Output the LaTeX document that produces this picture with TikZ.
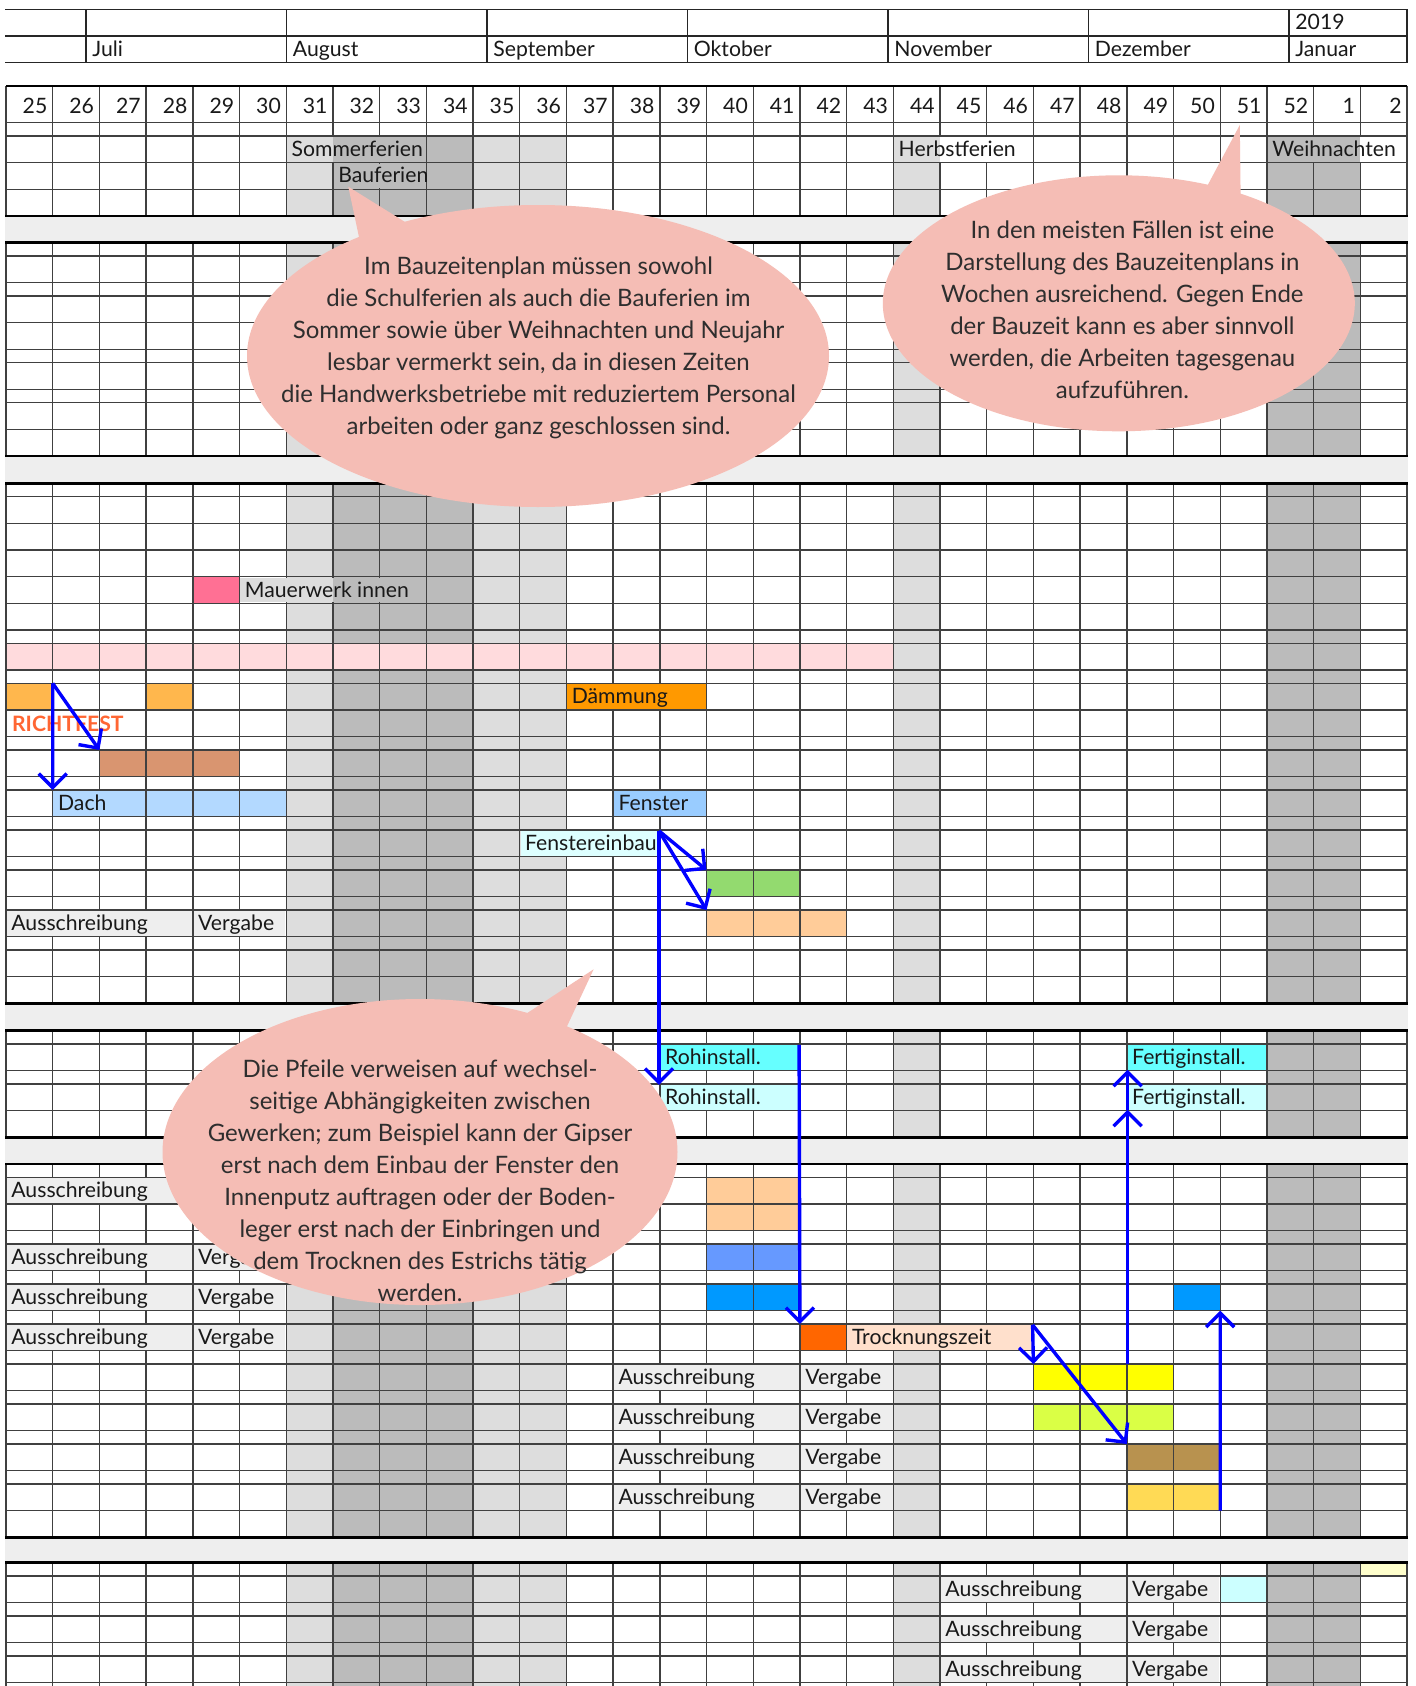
\documentclass[tikz,border=0pt]{standalone}
\usepackage{fontspec}
\setmainfont{Lato}
\usetikzlibrary{arrows.meta,fit}
\definecolor{shlight}{HTML}{DDDDDD}
\definecolor{shdark}{HTML}{BBBBBB}
\definecolor{bandgray}{HTML}{EEEEEE}
\definecolor{labgray}{HTML}{EEEEEE}
\definecolor{gridc}{HTML}{404040}
\definecolor{callc}{HTML}{F5BDB5}
\definecolor{calltextc}{HTML}{2E2E2E}
\definecolor{arrowblue}{HTML}{0000FF}
\definecolor{cpinkcell}{HTML}{FF7094}
\definecolor{cpinkband}{HTML}{FFDBDD}
\definecolor{corange}{HTML}{FFB74D}
\definecolor{cdaemm}{HTML}{FF9900}
\definecolor{crichtfest}{HTML}{FF6633}
\definecolor{cbrown}{HTML}{D99570}
\definecolor{cdach}{HTML}{B3D9FF}
\definecolor{cfenster}{HTML}{99CCFF}
\definecolor{cfeinbau}{HTML}{DDFFFF}
\definecolor{cgreen}{HTML}{93DA6F}
\definecolor{cpeach}{HTML}{FFCC99}
\definecolor{croh}{HTML}{66FFFF}
\definecolor{crohlight}{HTML}{CCFFFF}
\definecolor{cblueA}{HTML}{6699FF}
\definecolor{cblueB}{HTML}{0099FF}
\definecolor{cdry}{HTML}{FF6600}
\definecolor{cdrylight}{HTML}{FFE0CC}
\definecolor{cyellow}{HTML}{FFFF00}
\definecolor{cyellowgreen}{HTML}{DAFF45}
\definecolor{cbrownB}{HTML}{B8924F}
\definecolor{cgold}{HTML}{FFDA55}
\definecolor{clightyellow}{HTML}{FFFFCC}
\newcommand{\cellfont}{\fontsize{10.6pt}{12pt}\selectfont}
\newcommand{\callfont}{\fontsize{12pt}{16pt}\selectfont}
% bar cell (drawn before the grid): name, c1, c2 (exclusive), ytop, ybot, colour
\newcommand{\gcell}[6]{%
  \pgfmathsetmacro{\xa}{6+46.7*#2}%
  \pgfmathsetmacro{\xb}{6+46.7*#3}%
  \node[cellbox, fill=#6, fit={(\xa,#4) (\xb,#5)}] (#1) {};}
% merged label cell (drawn after the grid)
\newcommand{\glabel}[7]{%
  \pgfmathsetmacro{\xa}{6+46.7*#2+0.8}%
  \pgfmathsetmacro{\xb}{6+46.7*#3-0.8}%
  \pgfmathsetmacro{\ya}{#4+0.9}%
  \pgfmathsetmacro{\yb}{#5-0.9}%
  \pgfmathsetmacro{\xt}{6+46.7*#2+5}%
  \pgfmathsetmacro{\yt}{#5-6.3}%
  \node[cellbox, fill=#6, fit={(\xa,\ya) (\xb,\yb)}] (#1) {};
  \node[celltext] (#1-t) at (\xt,\yt) {#7};}
\begin{document}
\begin{tikzpicture}[x=0.5pt,y=-0.5pt,
  cellbox/.style={rectangle, inner sep=0pt, outer sep=0pt},
  celltext/.style={anchor=base west, inner sep=0pt, font=\cellfont, text=black!90},
  weeknum/.style={anchor=base east, inner sep=0pt, font=\cellfont, text=black!90},
  calltext/.style={align=center, inner sep=0pt, font=\callfont, text=calltextc},
  gridline/.style={draw=gridc, line width=0.7pt},
  thickline/.style={draw=black, line width=1.2pt},
  headline/.style={draw=black!85, line width=0.7pt},
  arr/.style={draw=arrowblue, line width=1.7pt, -{Straight Barb[length=7pt, width=14pt]}}]
\useasboundingbox (0,0) rectangle (1416,1686);
\fill[white] (0,0) rectangle (1416,1686);

% ---------- header (years / months)
\draw[headline] (5,9.3) -- (1407,9.3);
\draw[headline] (5,36) -- (1407,36);
\draw[headline] (5,62.7) -- (1407,62.7);
\foreach \mx in {86,286.5,487,687.5,888,1088.5,1289,1407}
  \draw[headline] (\mx,9.3) -- (\mx,62.7);
\node[celltext] (mjul) at (92,56.5) {Juli};
\node[celltext] (maug) at (292.5,56.5) {August};
\node[celltext] (msep) at (493,56.5) {September};
\node[celltext] (mokt) at (693.5,56.5) {Oktober};
\node[celltext] (mnov) at (894,56.5) {November};
\node[celltext] (mdez) at (1094.5,56.5) {Dezember};
\node[celltext] (mjan) at (1295,56.5) {Januar};
\node[celltext] (year) at (1295,29.5) {2019};

% ---------- column shading
\fill[shlight] (286.2,136) rectangle (332.9,1686);
\fill[shdark]  (332.9,136) rectangle (473,1686);
\fill[shlight] (473,136) rectangle (566.4,1686);
\fill[shlight] (893.3,136) rectangle (940,1686);
\fill[shdark]  (1266.9,136) rectangle (1360.3,1686);

% ---------- bars (cells with visible grid)
\gcell{mauerpink}{4}{5}{576.67}{603.33}{cpinkcell}
\gcell{pinkband}{0}{19}{643.33}{670}{cpinkband}
\gcell{orA}{0}{1}{683.33}{710}{corange}
\gcell{orB}{3}{4}{683.33}{710}{corange}
\gcell{brownA}{2}{5}{750}{776.67}{cbrown}
\gcell{dach}{1}{6}{790}{816.67}{cdach}
\gcell{green}{15}{17}{870}{896.67}{cgreen}
\gcell{peachA}{15}{18}{910}{936.67}{cpeach}
\gcell{peachB}{15}{17}{1177.33}{1204}{cpeach}
\gcell{peachC}{15}{17}{1204}{1230.67}{cpeach}
\gcell{blueA}{15}{17}{1244}{1270.67}{cblueA}
\gcell{blueB}{15}{17}{1284}{1310.67}{cblueB}
\gcell{blueC}{25}{26}{1284}{1310.67}{cblueB}
\gcell{dry}{17}{18}{1324}{1350.67}{cdry}
\gcell{yellow}{22}{25}{1364}{1390.67}{cyellow}
\gcell{ygreen}{22}{25}{1404}{1430.67}{cyellowgreen}
\gcell{brownB}{24}{26}{1444}{1470.67}{cbrownB}
\gcell{gold}{24}{26}{1484}{1510.67}{cgold}
\gcell{lyellow}{29}{30}{1562.67}{1576}{clightyellow}
\gcell{lcyan}{26}{27}{1576}{1602.67}{crohlight}

% ---------- grid
\foreach \y in {122.67,136,162.67,189.33,
  256,282.67,296,322.67,349.33,362.67,389.33,402.67,429.33,
  496.67,523.33,550,576.67,603.33,630,643.33,670,683.33,710,736.67,750,776.67,790,816.67,830,856.67,870,896.67,910,936.67,950,976.67,
  1044,1070.67,1084,1110.67,
  1177.33,1204,1230.67,1244,1270.67,1284,1310.67,1324,1350.67,1364,1390.67,1404,1430.67,1444,1470.67,1484,1510.67,
  1576,1602.67,1616,1642.67,1656,1682.67}
  \draw[gridline] (6,\y) -- (1407,\y);
\foreach \i in {0,...,30}{
  \pgfmathsetmacro{\xx}{6+46.7*\i}
  \foreach \ya/\yb in {86/216,242.67/456,483.33/1003.33,1030.67/1137.33,1164/1537.33,1562.67/1686}
    \draw[gridline] (\xx,\ya) -- (\xx,\yb);
}
\draw[draw=black, line width=0.9pt] (6,86) -- (1407,86);
\foreach \ya/\yb in {216/242.67,456/483.33,1003.33/1030.67,1137.33/1164,1537.33/1562.67}{
  \fill[bandgray] (5,\ya) rectangle (1407.5,\yb);
  \draw[thickline] (5,\ya) -- (1407.5,\ya);
  \draw[thickline] (5,\yb) -- (1407.5,\yb);
}

% ---------- week numbers
\foreach \w [count=\i from 1] in {25,26,27,28,29,30,31,32,33,34,35,36,37,38,39,40,41,42,43,44,45,46,47,48,49,50,51,52,1,2}{
  \pgfmathsetmacro{\xw}{6+46.7*\i-5}
  \node[weeknum] (wk\i) at (\xw,113.5) {\w};
}

% ---------- holidays (merged cells)
\fill[shlight] (287,136.9) rectangle (332.9,161.77);
\fill[shdark] (332.9,136.9) rectangle (425.5,161.77);
\node[celltext] (sommer) at (291.2,156.4) {Sommerferien};
\fill[shdark] (333.7,163.57) rectangle (425.5,188.43);
\node[celltext] (bauf) at (337.9,183) {Bauferien};
\fill[shlight] (894.1,136.9) rectangle (940,161.77);
\fill[white] (940,136.9) rectangle (1032.6,161.77);
\node[celltext] (herbst) at (898.3,156.4) {Herbstferien};
\fill[shdark] (1267.7,136.9) rectangle (1360.3,161.77);
\fill[white] (1360.3,136.9) rectangle (1406.2,161.77);
\node[celltext] (weihn) at (1271.9,156.4) {Weihnachten};

% ---------- merged label cells
\fill[shlight] (240.3,577.57) rectangle (332.9,602.43);
\fill[shdark] (332.9,577.57) rectangle (425.5,602.43);
\node[celltext] (mauer) at (244.5,597) {Mauerwerk innen};
\glabel{daemm}{12}{15}{683.33}{710}{cdaemm}{Dämmung}
\node[celltext, font=\cellfont\bfseries, text=crichtfest] (richt) at (11.7,731.5) {RICHTFEST};
\fill[cdach] (53.5,790.9) rectangle (145.3,815.77);
\node[celltext] (dacht) at (57.7,810.4) {Dach};
\glabel{fenster}{13}{15}{790}{816.67}{cfenster}{Fenster}
\glabel{feinbau}{11}{14}{830}{856.67}{cfeinbau}{Fenstereinbau}
\glabel{ausA}{0}{4}{910}{936.67}{labgray}{Ausschreibung}
\glabel{verA}{4}{6}{910}{936.67}{labgray}{Vergabe}
\glabel{rohA}{14}{17}{1044}{1070.67}{croh}{Rohinstall.}
\glabel{fertA}{24}{27}{1044}{1070.67}{croh}{Fertiginstall.}
\glabel{rohB}{14}{17}{1084}{1110.67}{crohlight}{Rohinstall.}
\glabel{fertB}{24}{27}{1084}{1110.67}{crohlight}{Fertiginstall.}
\glabel{aus1}{0}{4}{1177.33}{1204}{labgray}{Ausschreibung}
\glabel{aus2}{0}{4}{1244}{1270.67}{labgray}{Ausschreibung}
\glabel{ver2}{4}{6}{1244}{1270.67}{labgray}{Vergabe}
\glabel{aus3}{0}{4}{1284}{1310.67}{labgray}{Ausschreibung}
\glabel{ver3}{4}{6}{1284}{1310.67}{labgray}{Vergabe}
\glabel{aus4}{0}{4}{1324}{1350.67}{labgray}{Ausschreibung}
\glabel{ver4}{4}{6}{1324}{1350.67}{labgray}{Vergabe}
\glabel{dryz}{18}{22}{1324}{1350.67}{cdrylight}{Trocknungszeit}
\glabel{aus5}{13}{17}{1364}{1390.67}{labgray}{Ausschreibung}
\glabel{ver5}{17}{19}{1364}{1390.67}{labgray}{Vergabe}
\glabel{aus6}{13}{17}{1404}{1430.67}{labgray}{Ausschreibung}
\glabel{ver6}{17}{19}{1404}{1430.67}{labgray}{Vergabe}
\glabel{aus7}{13}{17}{1444}{1470.67}{labgray}{Ausschreibung}
\glabel{ver7}{17}{19}{1444}{1470.67}{labgray}{Vergabe}
\glabel{aus8}{13}{17}{1484}{1510.67}{labgray}{Ausschreibung}
\glabel{ver8}{17}{19}{1484}{1510.67}{labgray}{Vergabe}
\glabel{aus9}{20}{24}{1576}{1602.67}{labgray}{Ausschreibung}
\glabel{ver9}{24}{26}{1576}{1602.67}{labgray}{Vergabe}
\glabel{aus10}{20}{24}{1616}{1642.67}{labgray}{Ausschreibung}
\glabel{ver10}{24}{26}{1616}{1642.67}{labgray}{Vergabe}
\glabel{aus11}{20}{24}{1656}{1682.67}{labgray}{Ausschreibung}
\glabel{ver11}{24}{26}{1656}{1682.67}{labgray}{Vergabe}

% ---------- callouts
\fill[callc] (538,356) ellipse [x radius=145.5pt, y radius=75.5pt];
\fill[callc] (348.3,186.7) -- (366,270) -- (450,250) -- cycle;
\node[calltext] (call1) at (538.5,347.7) {Im Bauzeitenplan müssen sowohl\\die Schulferien als auch die Bauferien im\\Sommer sowie über Weihnachten und Neujahr\\lesbar vermerkt sein, da in diesen Zeiten\\die Handwerksbetriebe mit reduziertem Personal\\arbeiten oder ganz geschlossen sind.};

\fill[callc] (1118.8,303.3) ellipse [x radius=118pt, y radius=64pt];
\fill[callc] (1239.8,125) -- (1196,207) -- (1241,230) -- cycle;
\node[calltext] (call2) at (1122.4,309.7) {In den meisten Fällen ist eine\\Darstellung des Bauzeitenplans in\\Wochen ausreichend. Gegen Ende\\der Bauzeit kann es aber sinnvoll\\werden, die Arbeiten tagesgenau\\aufzuführen.};

\fill[callc] (420,1152) ellipse [x radius=128.75pt, y radius=76.5pt];
\fill[callc] (593.6,969.3) -- (500,1031) -- (555,1052) -- cycle;
\node[calltext] (call3) at (420,1181) {Die Pfeile verweisen auf wechsel-\\seitige Abhängigkeiten zwischen\\Gewerken; zum Beispiel kann der Gipser\\erst nach dem Einbau der Fenster den\\Innenputz auftragen oder der Boden-\\leger erst nach der Einbringen und\\dem Trocknen des Estrichs tätig\\werden.};

% ---------- dependency arrows
\draw[arr] (orA.north east) -- (dach.north west);
\draw[arr] (orA.north east) -- (brownA.north west);
\draw[arr] (feinbau.north east) -- (green.north west);
\draw[arr] (feinbau.north east) -- (peachA.north west);
\draw[arr] (feinbau.north east) -- (feinbau.north east |- rohB.north);
\draw[arr] (rohA.north east) -- (dry.north west);
\draw[arr] (dryz.north east) -- (yellow.north west);
\draw[arr] (dryz.north east) -- (brownB.north west);
\draw[arr] (fertB.south west |- yellow.north) -- (fertB.south west);
\draw[arr] (fertB.south west) -- (fertA.south west);
\draw[arr] (gold.south east) -- (blueC.south east);
\end{tikzpicture}
\end{document}
